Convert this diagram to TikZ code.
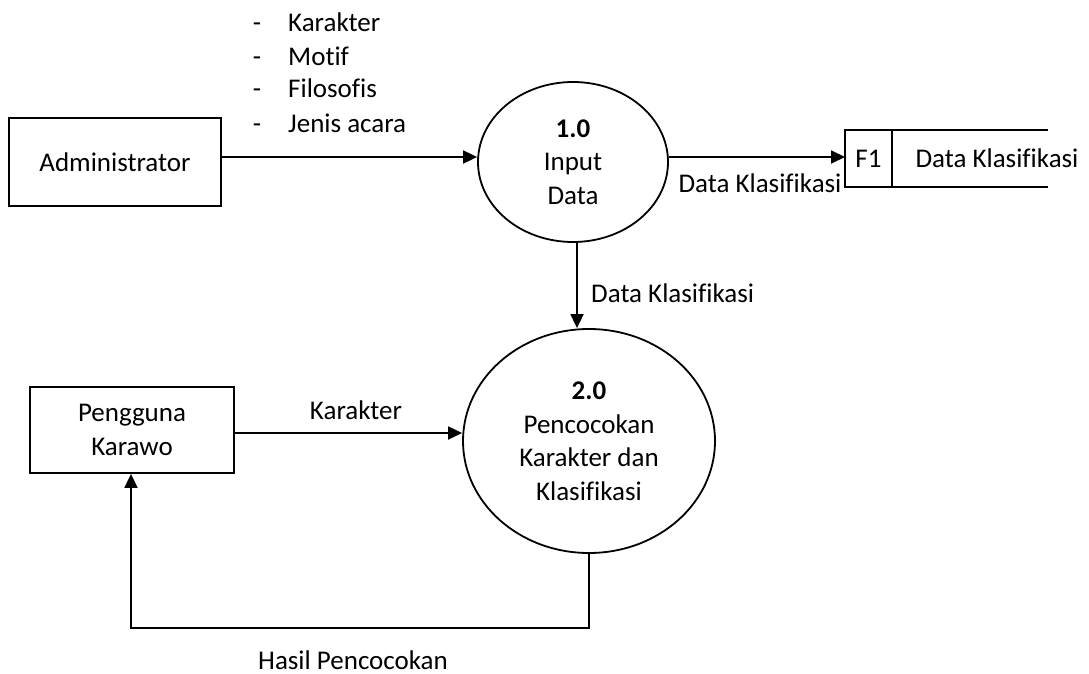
\documentclass[tikz,border=0pt]{standalone}
\usepackage{fontspec}
\setmainfont[Ligatures={NoCommon}]{Carlito}
\usetikzlibrary{shapes.geometric,arrows.meta,calc}
\begin{document}
\begin{tikzpicture}[x=1pt,y=-1pt,
  every node/.style={font=\fontsize{27}{33.5}\selectfont, inner sep=0pt},
  line/.style={line width=1.8pt},
  entity/.style={draw, line width=1.8pt, rectangle, align=center},
  proc/.style={draw, line width=1.8pt, ellipse, align=center},
  flow/.style={line width=1.8pt, -{Triangle[length=14pt,width=13pt]}},
  lbl/.style={align=center}]
\useasboundingbox (0,0) rectangle (1089,674);

% list of inputs
\node[anchor=base] (d1) at (257,32) {-};
\node[anchor=base] (d2) at (257,66) {-};
\node[anchor=base] (d3) at (257,98) {-};
\node[anchor=base] (d4) at (257,132) {-};
\node[anchor=base west] (l1) at (288,32) {Karakter};
\node[anchor=base west] (l2) at (288,66) {Motif};
\node[anchor=base west] (l3) at (288,98) {Filosofis};
\node[anchor=base west] (l4) at (288,132) {Jenis acara};

% entities
\node[entity, minimum width=212pt, minimum height=88pt] (admin) at (115,162) {Administrator};
\node[entity, minimum width=204pt, minimum height=86pt] (user) at (132,430) {Pengguna\\Karawo};

% processes
\node[proc, minimum width=190pt, minimum height=160pt] (p1) at (573,162) {\textbf{1.0}\\Input\\Data};
\node[proc, minimum width=252pt, minimum height=224pt] (p2) at (589,441) {\textbf{2.0}\\Pencocokan\\Karakter dan\\Klasifikasi};

% data store
\node[draw, line width=1.8pt, outer sep=0pt, rectangle, minimum width=47pt, minimum height=57pt] (f1) at (868.5,158.5) {F1};
\coordinate (st) at (1048,130);
\coordinate (sb) at (1048,187);
\draw[line] (f1.north east) -- (st);
\draw[line] (f1.south east) -- (sb);
\node (storetext) at (997,158) {Data Klasifikasi};

% flows
\draw[flow] (admin.east |- 0,157) -- (p1.west |- 0,157);
\draw[flow] (p1.east |- 0,157) -- (f1.west |- 0,157);
\node[lbl] (lf1) at (760,183) {Data Klasifikasi};

\draw[flow] (p1.south -| 577,0) -- (p2.north -| 577,0);
\node[anchor=west] (lp2) at (591,293) {Data Klasifikasi};

\draw[flow] (user.east |- 0,433) -- (p2.west |- 0,433);
\node[lbl] (lk) at (356,410) {Karakter};

\coordinate (fb) at (131,628);
\draw[flow] (p2.south) |- (fb) -- (fb |- user.south);
\node[lbl] (lh) at (353,660) {Hasil Pencocokan};
\end{tikzpicture}
\end{document}
